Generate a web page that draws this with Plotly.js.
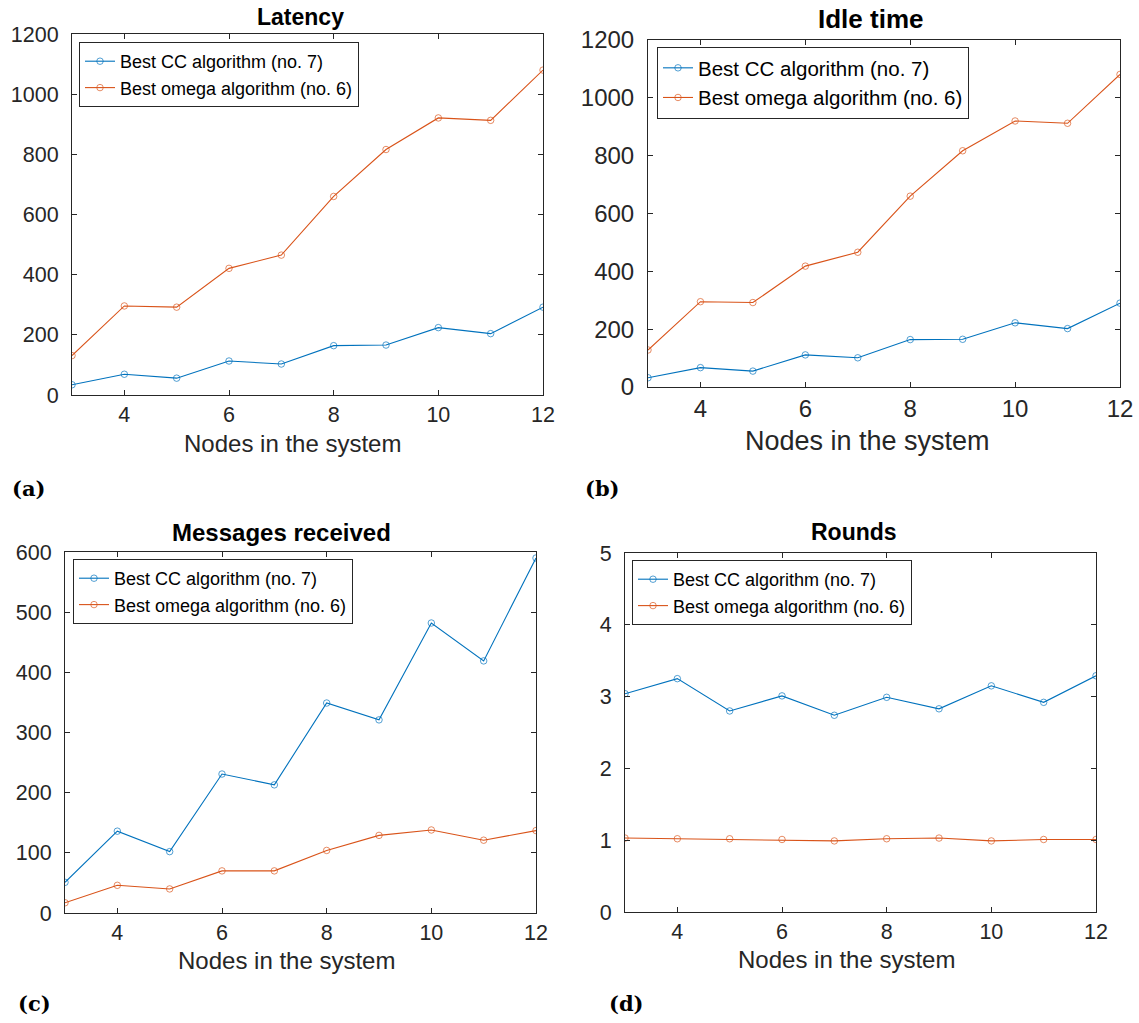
<!DOCTYPE html>
<html>
<head>
<meta charset="utf-8">
<script src="https://cdn.plot.ly/plotly-3.0.1.min.js"></script>
<style>html,body{margin:0;padding:0;background:#fff;}#chart{width:1139px;height:1023px;}</style>
</head>
<body>
<div id="chart"></div>
<script>
// ---- data ----
const nodes = [3, 4, 5, 6, 7, 8, 9, 10, 11, 12];
const xTickVals = [4, 6, 8, 10, 12];
const seriesNames = ["Best CC algorithm (no. 7)", "Best omega algorithm (no. 6)"];
const panelTitles = ["Latency", "Idle time", "Messages received", "Rounds"];
const panelLabels = ["(a)", "(b)", "(c)", "(d)"];
const xAxisTitle = "Nodes in the system";

const latencyCC    = [34, 69, 56, 113, 103, 164, 166, 224, 204, 292];
const latencyOmega = [131, 296, 292, 421, 465, 660, 816, 921, 913, 1080];
const idleCC       = [32, 67, 55, 111, 101, 164, 165, 222, 202, 290];
const idleOmega    = [128, 295, 292, 418, 466, 660, 817, 920, 912, 1081];
const msgCC        = [51, 136, 102, 231, 213, 349, 321, 482, 419, 590];
const msgOmega     = [17, 46, 40, 70, 70, 104, 129, 138, 121, 137];
const roundsCC     = [3.04, 3.25, 2.80, 3.01, 2.74, 2.99, 2.83, 3.15, 2.92, 3.29];
const roundsOmega  = [1.03, 1.02, 1.02, 1.01, 0.99, 1.02, 1.03, 0.99, 1.01, 1.01];

const yRanges = [[0, 1200], [0, 1200], [0, 600], [0, 5]];
const yDticks = [200, 200, 100, 1];

// ---- styling ----
const W = 1139, H = 1023;
const FONT = "Liberation Sans, Arial, sans-serif";
const INK = "#262626";
const BLUE = "#0072BD", ORANGE = "#D95319";

// plot-area pixel boxes [left, top, right, bottom]
const boxes = [
  [72, 34, 543, 395],
  [648, 40, 1120, 387],
  [65, 552, 536, 913],
  [625, 553, 1096, 912]
];
const tickSizes = [21.5, 24, 21.5, 21.5];
const xTitleSizes = [24, 27, 24, 24];
const xTitlePos = [[292, 443], [867, 441], [286, 960], [846, 959]];
const titleSizes = [23, 26, 24, 23];
const titlePos = [[300, 17], [870, 19], [281, 532], [854, 532]];
const legendSizes = [18, 20.5, 18, 18];
const legendBoxes = [[79, 42], [657, 47], [73, 559], [632, 560]];
const legendEntryW = [262, 300, 262, 262];
const labelPos = [[10, 488], [583, 488], [16, 1003], [607, 1003]];

const ySets = [[latencyCC, latencyOmega], [idleCC, idleOmega], [msgCC, msgOmega], [roundsCC, roundsOmega]];

const data = [];
const layout = {
  width: W, height: H,
  margin: {l: 0, r: 0, t: 0, b: 0},
  paper_bgcolor: "#fff", plot_bgcolor: "#fff",
  showlegend: true,
  annotations: [],
  font: {family: FONT, color: INK}
};

for (let i = 0; i < 4; i++) {
  const n = i + 1;
  const xa = n === 1 ? "x" : "x" + n;
  const ya = n === 1 ? "y" : "y" + n;
  const xk = n === 1 ? "xaxis" : "xaxis" + n;
  const yk = n === 1 ? "yaxis" : "yaxis" + n;
  const lk = n === 1 ? "legend" : "legend" + n;
  const [l, t, r, b] = boxes[i];
  const colors = [BLUE, ORANGE];
  for (let s = 0; s < 2; s++) {
    data.push({
      type: "scatter", mode: "lines+markers",
      x: nodes, y: ySets[i][s], name: seriesNames[s],
      xaxis: xa, yaxis: ya, legend: lk,
      line: {color: colors[s], width: 1.1},
      marker: {symbol: "circle-open", size: 6.5, color: colors[s], opacity: 0.75, line: {width: 0.9, color: colors[s]}}
    });
  }
  const common = {
    showline: true, linecolor: INK, linewidth: 1, mirror: "ticks",
    ticks: "inside", ticklen: 5, tickcolor: INK, tickwidth: 1,
    showgrid: false, zeroline: false,
    tickfont: {family: FONT, size: tickSizes[i], color: INK}
  };
  layout[xk] = Object.assign({}, common, {
    domain: [l / W, r / W], anchor: ya,
    range: [3, 12], tickvals: xTickVals, ticktext: xTickVals.map(String)
  });
  layout[yk] = Object.assign({}, common, {
    domain: [1 - b / H, 1 - t / H], anchor: xa,
    range: yRanges[i], dtick: yDticks[i], tick0: 0,
    ticklabelstandoff: 8
  });
  layout[lk] = {
    x: legendBoxes[i][0] / W, y: 1 - legendBoxes[i][1] / H,
    xanchor: "left", yanchor: "top",
    bgcolor: "#fff", bordercolor: INK, borderwidth: 1,
    font: {family: FONT, size: legendSizes[i], color: "#000"},
    itemwidth: 30, tracegroupgap: 0,
    entrywidth: legendEntryW[i], entrywidthmode: "pixels"
  };
  layout.annotations.push({
    xref: "paper", yref: "paper", x: titlePos[i][0] / W, y: 1 - titlePos[i][1] / H,
    xanchor: "center", yanchor: "middle", showarrow: false,
    text: "<b>" + panelTitles[i] + "</b>",
    font: {family: FONT, size: titleSizes[i], color: "#000"}
  });
  layout.annotations.push({
    xref: "paper", yref: "paper", x: xTitlePos[i][0] / W, y: 1 - xTitlePos[i][1] / H,
    xanchor: "center", yanchor: "middle", showarrow: false,
    text: xAxisTitle,
    font: {family: FONT, size: xTitleSizes[i], color: INK}
  });
  layout.annotations.push({
    xref: "paper", yref: "paper", x: labelPos[i][0] / W, y: 1 - labelPos[i][1] / H,
    xanchor: "left", yanchor: "middle", showarrow: false,
    text: "<b>" + panelLabels[i] + "</b>",
    font: {family: "DejaVu Serif, serif", size: 21, color: "#000"}
  });
}

Plotly.newPlot("chart", data, layout, {staticPlot: true});
</script>
</body>
</html>
